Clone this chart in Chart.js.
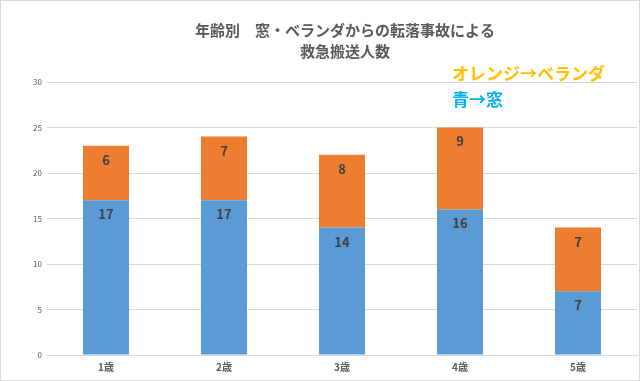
<!DOCTYPE html>
<html>
<head>
<meta charset="utf-8">
<script src="https://cdn.jsdelivr.net/npm/chart.js@4"></script>
<style>
html,body{margin:0;padding:0;background:#fff;}
#wrap{width:640px;height:381px;position:relative;}
</style>
</head>
<body>
<div id="wrap"><canvas id="c" width="640" height="381"></canvas></div>
<script>
const categories = ['1歳', '2歳', '3歳', '4歳', '5歳'];
const windowValues = [17, 17, 14, 16, 7];
const balconyValues = [6, 7, 8, 9, 7];
const yTicks = [0, 5, 10, 15, 20, 25, 30];
const titleLines = ['年齢別　窓・ベランダからの転落事故による', '救急搬送人数'];
const noteLines = ['オレンジ→ベランダ', '青→窓'];

const FONT = '"Noto Sans CJK JP", "Noto Sans", sans-serif';

const decor = {
  id: 'decor',
  afterDatasetsDraw(chart) {
    const ctx = chart.ctx;
    ctx.save();
    // data labels
    ctx.font = 'bold 13px ' + FONT;
    ctx.fillStyle = '#404040';
    ctx.textAlign = 'center';
    ctx.textBaseline = 'middle';
    chart.data.datasets.forEach((ds, di) => {
      const meta = chart.getDatasetMeta(di);
      meta.data.forEach((bar, i) => {
        ctx.fillText(String(ds.data[i]), bar.x, bar.y + 14);
      });
    });
    // title
    ctx.font = 'bold 15px ' + FONT;
    ctx.fillStyle = '#595959';
    ctx.fillText(titleLines[0], 345, 30);
    ctx.fillText(titleLines[1], 345, 51);
    // notes
    ctx.font = 'bold 17px ' + FONT;
    ctx.textAlign = 'left';
    ctx.fillStyle = '#FFC000';
    ctx.fillText(noteLines[0], 452, 74);
    ctx.fillStyle = '#00B0F0';
    ctx.fillText(noteLines[1], 452, 100);
    // border
    ctx.strokeStyle = '#d9d9d9';
    ctx.lineWidth = 1;
    ctx.strokeRect(0.5, 0.5, 639, 380);
    ctx.restore();
  }
};

new Chart(document.getElementById('c'), {
  type: 'bar',
  data: {
    labels: categories,
    datasets: [
      { label: '窓', data: windowValues, backgroundColor: '#5B9BD5', barPercentage: 0.39, categoryPercentage: 1 },
      { label: 'ベランダ', data: balconyValues, backgroundColor: '#ED7D31', barPercentage: 0.39, categoryPercentage: 1 }
    ]
  },
  options: {
    responsive: false,
    animation: false,
    devicePixelRatio: 1,
    layout: { padding: { top: 82, right: 3, bottom: 2, left: 0 } },
    plugins: {
      legend: { display: false },
      title: { display: false },
      tooltip: { enabled: false }
    },
    scales: {
      x: {
        stacked: true,
        grid: { display: false, drawTicks: false },
        border: { display: true, color: '#d9d9d9' },
        ticks: { color: '#595959', font: { family: FONT, size: 10, weight: 'bold' }, padding: 6 },
        afterFit(s) { s.height = 24; }
      },
      y: {
        stacked: true,
        min: 0, max: 30,
        afterBuildTicks(s) { s.ticks = yTicks.map(v => ({ value: v })); },
        grid: { color: '#d9d9d9', drawTicks: false },
        border: { display: false },
        ticks: { color: '#595959', font: { family: FONT, size: 8 }, padding: 5 },
        afterFit(s) { s.width = 47; }
      }
    }
  },
  plugins: [decor]
});
</script>
</body>
</html>
